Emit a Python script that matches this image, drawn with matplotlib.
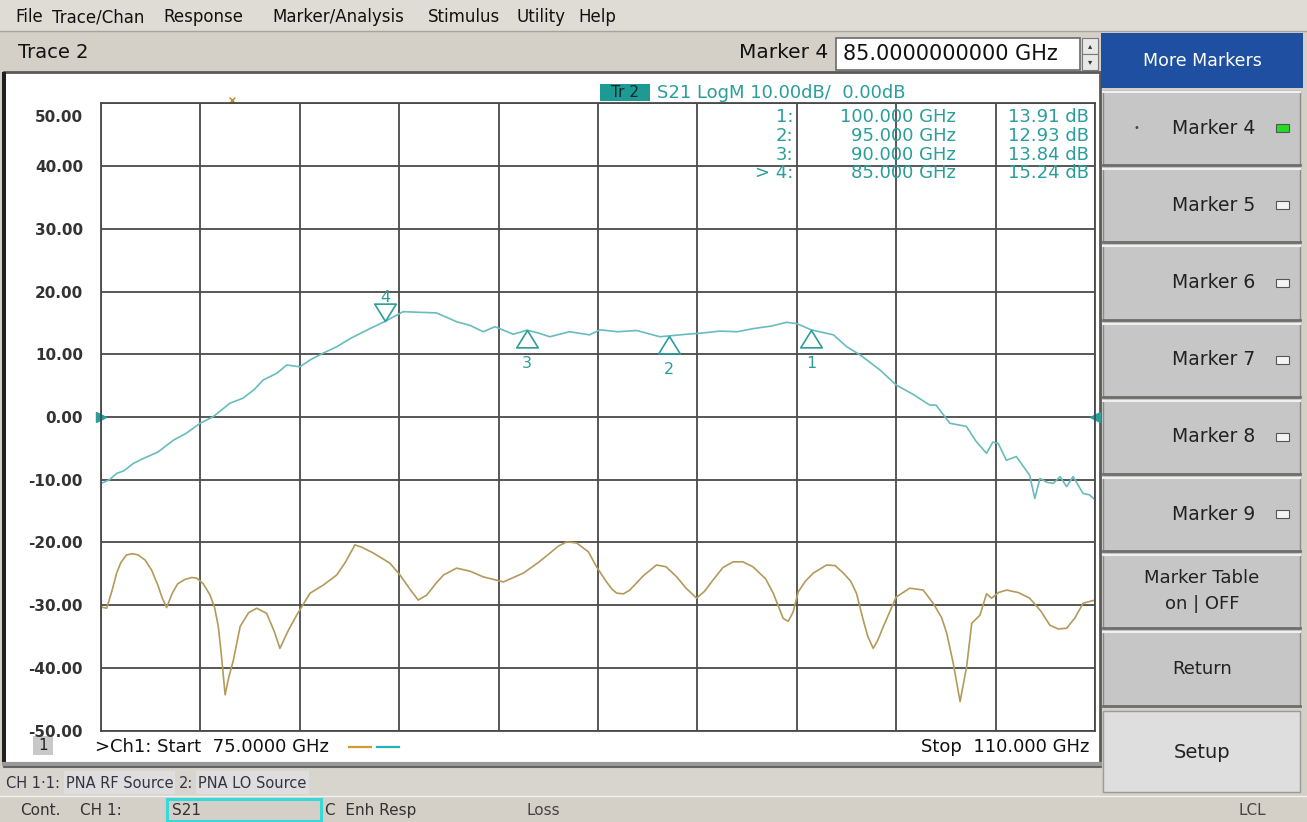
import numpy as np
import matplotlib
matplotlib.use('Agg')
import matplotlib.pyplot as plt
from matplotlib.patches import Rectangle
from matplotlib.path import Path
from matplotlib.transforms import ScaledTranslation

plt.rcParams['font.family'] = ['DejaVu Sans']

# S21 trace (GHz, dB)
s21_freq = [75.0, 75.3, 75.55, 75.8, 76.14, 76.5, 77.0, 77.55, 78.0, 78.49, 78.95, 79.54,
            80.0, 80.4, 80.71, 81.2, 81.54, 82.0, 82.4, 82.83, 83.3, 83.77, 84.47, 85.0,
            85.64, 86.2, 86.81, 87.52, 88.0, 88.46, 88.87, 89.52, 90.0, 90.4, 90.8, 91.5,
            92.2, 92.57, 93.2, 93.86, 94.68, 95.0, 95.62, 96.2, 96.8, 97.4, 97.97, 98.6,
            99.14, 99.5, 100.0, 100.79, 101.26, 101.73, 102.43, 103.0, 103.6, 104.18, 104.4,
            104.89, 105.47, 105.8, 106.18, 106.4, 106.59, 106.88, 107.23, 107.7, 107.88,
            108.06, 108.3, 108.53, 108.77, 109.0, 109.23, 109.4, 109.58, 109.8, 110.0]
s21_db = [-10.6, -10.0, -9.0, -8.6, -7.4, -6.6, -5.6, -3.7, -2.6, -1.0, 0.05, 2.2,
          3.0, 4.4, 5.9, 7.0, 8.3, 8.0, 9.2, 10.2, 11.2, 12.5, 14.1, 15.24,
          16.8, 16.7, 16.6, 15.2, 14.6, 13.6, 14.4, 13.2, 13.84, 13.4, 12.8, 13.6,
          13.1, 13.9, 13.6, 13.8, 12.8, 12.93, 13.2, 13.4, 13.7, 13.6, 14.1, 14.5,
          15.1, 14.9, 13.91, 13.1, 11.2, 9.9, 7.5, 5.1, 3.6, 1.9, 1.9,
          -1.0, -1.5, -3.8, -5.8, -4.0, -4.2, -6.9, -6.3, -9.3, -13.0,
          -9.8, -10.4, -10.6, -9.5, -11.1, -9.5, -10.8, -12.2, -12.4, -13.2]

# LO leakage trace (GHz, dB)
lo_freq = [75.0, 75.2, 75.4, 75.55, 75.7, 75.9, 76.1, 76.31, 76.55, 76.78, 77.0, 77.15, 77.31,
           77.5, 77.7, 77.96, 78.2, 78.37, 78.6, 78.84, 79.0, 79.13, 79.25, 79.37, 79.5,
           79.66, 79.9, 80.2, 80.48, 80.83, 81.1, 81.3, 81.6, 81.89, 82.36, 82.83, 83.3,
           83.6, 83.94, 84.2, 84.59, 85.17, 85.53, 85.9, 86.17, 86.47, 86.8, 87.06, 87.52,
           88.0, 88.46, 89.17, 89.87, 90.4, 90.81, 91.1, 91.4, 91.75, 92.16, 92.45, 92.8,
           93.0, 93.16, 93.4, 93.62, 94.1, 94.56, 94.9, 95.27, 95.6, 95.97, 96.25, 96.55,
           96.9, 97.26, 97.6, 97.96, 98.4, 98.67, 99.02, 99.2, 99.37, 99.55, 99.8, 100.08,
           100.55, 100.85, 101.14, 101.4, 101.6, 101.84, 102.0, 102.19, 102.35, 102.55,
           103.0, 103.48, 103.95, 104.3, 104.6, 104.78, 105.01, 105.25, 105.48, 105.66,
           105.95, 106.18, 106.36, 106.6, 106.89, 107.3, 107.7, 108.1, 108.41, 108.7,
           109.0, 109.3, 109.58, 110.0]
lo_db = [-30.3, -30.5, -27.5, -24.9, -23.2, -22.0, -21.8, -22.0, -22.8, -24.4, -26.8, -28.8,
         -30.4, -28.2, -26.6, -25.9, -25.6, -25.7, -26.6, -28.4, -30.4, -33.4, -38.5, -44.3,
         -41.5, -38.8, -33.4, -31.2, -30.5, -31.3, -34.2, -36.9, -34.0, -31.6, -28.1, -26.8,
         -25.2, -23.2, -20.4, -20.8, -21.7, -23.3, -25.2, -27.6, -29.2, -28.4, -26.5, -25.2,
         -24.1, -24.6, -25.5, -26.3, -24.9, -23.2, -21.7, -20.6, -19.9, -20.1, -21.5, -23.9,
         -26.3, -27.5, -28.1, -28.2, -27.6, -25.3, -23.6, -23.9, -25.5, -27.3, -28.9, -27.8,
         -26.0, -24.0, -23.1, -23.1, -23.9, -25.8, -28.1, -32.1, -32.6, -31.1, -27.9,
         -26.2, -24.9, -23.6, -23.7, -24.9, -26.2, -28.1, -32.4, -35.0, -36.9, -35.6,
         -33.4, -28.7, -27.3, -27.6, -29.7, -32.0, -34.5, -39.3, -45.4, -39.8, -32.9,
         -31.6, -28.2, -28.9, -28.0, -27.6, -28.0, -28.9, -31.0, -33.2, -33.8, -33.7,
         -32.0, -29.7, -29.2]

marker_ids = ['1', '2', '3', '4']
marker_freq = [100.0, 95.0, 90.0, 85.0]
marker_db = [13.91, 12.93, 13.84, 15.24]

menu_items = ['File', 'Trace/Chan', 'Response', 'Marker/Analysis', 'Stimulus', 'Utility', 'Help']
menu_x = [15, 52, 163, 272, 428, 516, 578]
side_buttons = ['Marker 4', 'Marker 5', 'Marker 6', 'Marker 7', 'Marker 8', 'Marker 9',
                'Marker Table\non | OFF', 'Return']

teal = '#2a9e9a'
trace_cyan = '#68bcbd'
trace_orange = '#b49a5a'
ui_grey = '#d4d0c8'
btn_grey = '#c6c6c6'

fig = plt.figure(figsize=(13.07, 8.22), dpi=100)
fig.patch.set_facecolor(ui_grey)

# window chrome drawn in pixel coordinates
bg = fig.add_axes([0, 0, 1, 1])
bg.set_xlim(0, 1307)
bg.set_ylim(822, 0)
bg.axis('off')

def rect(x0, y0, x1, y1, fc, ec='none', lw=1.0, z=1, a=bg):
    a.add_patch(Rectangle((x0, y0), x1 - x0, y1 - y0, facecolor=fc, edgecolor=ec, lw=lw, zorder=z))

# menu bar
rect(0, 0, 1307, 31, '#dfdcd5')
bg.plot([0, 1307], [31, 31], color='#a8a49c', lw=1)
for name, x in zip(menu_items, menu_x):
    bg.text(x, 17, name, fontsize=12, va='center', ha='left', color='#111111')

# toolbar row
bg.text(18, 53, 'Trace 2', fontsize=14, va='center', color='#111111')
bg.text(828, 53, 'Marker 4', fontsize=14.5, va='center', ha='right', color='#111111')
rect(836, 38, 1080, 70, 'white', ec='#6a6a6a', lw=1.2)
bg.text(843, 54, '85.0000000000 GHz', fontsize=15, va='center', color='#111111')
rect(1082, 38, 1098, 54, '#e8e8e8', ec='#7a7a7a', lw=0.8)
rect(1082, 54, 1098, 70, '#e8e8e8', ec='#7a7a7a', lw=0.8)
bg.text(1090, 46, '\u25b4', fontsize=6, ha='center', va='center', color='#333333')
bg.text(1090, 62, '\u25be', fontsize=6, ha='center', va='center', color='#333333')

# plot panel
rect(4, 72, 1100, 766, '#ffffff', ec='#5a5a5a', lw=2.0)
rect(2, 72, 6, 766, '#202020')
bg.plot([4, 1100], [764, 764], color='#9a9a9a', lw=3)

# right hand buttons
rect(1101, 33, 1303, 88, '#1e4fa0')
bg.text(1202, 61, 'More Markers', fontsize=12.5, ha='center', va='center', color='white')
btn_top = 91
btn_h = 77.2
for i, label in enumerate(side_buttons):
    y0 = btn_top + i * btn_h
    y1 = y0 + btn_h - 3
    rect(1103, y0, 1300, y1, btn_grey, ec='#8a8a8a', lw=1.0)
    bg.plot([1103, 1300], [y1, y1], color='#6e6e6e', lw=2)
    bg.plot([1103, 1300], [y0 + 1, y0 + 1], color='#f0f0f0', lw=1.5)
    ym = (y0 + y1) / 2
    if label.startswith('Marker') and '\n' not in label:
        bg.text(1255, ym, label, fontsize=13.5, ha='right', va='center', color='#222222')
        sq_fc = '#22dd22' if label == 'Marker 4' else '#f4f4f4'
        rect(1276, ym - 4, 1289, ym + 4, sq_fc, ec='#555555', lw=0.8, z=3)
    else:
        bg.text(1202, ym, label, fontsize=13, ha='center', va='center', color='#222222',
                linespacing=1.55)
bg.text(1136, btn_top + btn_h / 2 - 1.5, '\u2022', fontsize=7, ha='center', va='center', color='#444444')
rect(1103, 711, 1300, 792, '#dedede', ec='#9a9a9a', lw=1.0)
bg.text(1202, 752, 'Setup', fontsize=14, ha='center', va='center', color='#222222')

# status rows
rect(0, 769, 1101, 796, '#d8d5ce')
rect(64, 771, 175, 794, '#dedede')
rect(196, 771, 309, 794, '#dedede')
bg.text(6, 783, 'CH 1\u00b71:', fontsize=10.5, va='center', color='#333344')
bg.text(66, 783, 'PNA RF Source', fontsize=10.5, va='center', color='#333344')
bg.text(179, 783, '2:', fontsize=10.5, va='center', color='#333344')
bg.text(198, 783, 'PNA LO Source', fontsize=10.5, va='center', color='#333344')
bg.plot([0, 1307], [796, 796], color='#f2f2f2', lw=1)
bg.text(20, 810, 'Cont.', fontsize=11, va='center', color='#333333')
bg.text(80, 810, 'CH 1:', fontsize=11, va='center', color='#333333')
rect(167, 799, 321, 821, '#d4d0c8', ec='#38d8d8', lw=2.2)
bg.text(172, 810, 'S21', fontsize=11, va='center', color='#333333')
bg.text(325, 810, 'C  Enh Resp', fontsize=11, va='center', color='#333333')
bg.text(527, 810, 'Loss', fontsize=11, va='center', color='#444444')
bg.text(1238, 810, 'LCL', fontsize=11, va='center', color='#444444')

# channel footer inside panel
rect(33, 736, 53, 755, '#c8c8c8')
bg.text(43, 745, '1', fontsize=11, ha='center', va='center', color='#222222')
bg.text(95, 747, '>Ch1: Start  75.0000 GHz', fontsize=13, va='center', color='#111111')
bg.plot([349, 371], [747, 747], color='#d19a2e', lw=1.6)
bg.plot([377, 399], [747, 747], color='#22b5b5', lw=1.6)
bg.text(1089, 747, 'Stop  110.000 GHz', fontsize=13, va='center', ha='right', color='#111111')

# measurement grid
ax = fig.add_axes([101 / 1307, (822 - 730.5) / 822, 994 / 1307, 627 / 822], zorder=2)
ax.set_facecolor('white')
ax.set_xlim(75, 110)
ax.set_ylim(-50, 50)
ax.set_xticks(np.linspace(75, 110, 11))
ax.set_yticks(np.arange(-50, 51, 10))
ax.grid(True, color='#4a4a4a', lw=1.3)
ax.tick_params(axis='x', length=0, labelbottom=False)
ax.tick_params(axis='y', length=0, pad=13, labelsize=11, labelcolor='#333333')
ax.set_yticklabels(['%.2f' % v for v in np.arange(-50, 51, 10)], fontweight='bold')
top_lab = ax.get_yticklabels()[-1]
top_lab.set_verticalalignment('top')
top_lab.set_transform(top_lab.get_transform() + ScaledTranslation(0, -5 / 72, fig.dpi_scale_trans))
for s in ax.spines.values():
    s.set_color('#4a4a4a')
    s.set_linewidth(1.3)

ax.plot(lo_freq, lo_db, color=trace_orange, lw=1.2)
ax.plot(s21_freq, s21_db, color=trace_cyan, lw=1.2)

# reference position arrows and trace 1 ref mark
ax.plot([75], [0], marker='>', color=teal, ms=7, clip_on=False)
ax.plot([110], [0], marker='<', color=teal, ms=7, clip_on=False)
ax.plot([79.6], [50.6], marker='x', color='#c8842a', ms=4, mew=1, clip_on=False)

# markers
up_tri = Path([(0, 0), (-0.62, -1), (0.62, -1), (0, 0)], closed=True)
down_tri = Path([(0, 0), (-0.62, 1), (0.62, 1), (0, 0)], closed=True)
for mid, f, v in zip(marker_ids, marker_freq, marker_db):
    if mid == '4':
        ax.plot([f], [v], marker=down_tri, ms=25, mfc='none', mec=teal, mew=1.2)
        ax.annotate(mid, (f, v), xytext=(0, 17), textcoords='offset points', ha='center',
                    va='center', fontsize=11.5, color=teal)
    else:
        ax.plot([f], [v], marker=up_tri, ms=25, mfc='none', mec=teal, mew=1.2)
        ax.annotate(mid, (f, v), xytext=(0, -24), textcoords='offset points', ha='center',
                    va='center', fontsize=11.5, color=teal)

# header and marker readout, on top of the grid
top = fig.add_axes([0, 0, 1, 1], zorder=3)
top.set_xlim(0, 1307)
top.set_ylim(822, 0)
top.axis('off')
top.patch.set_alpha(0)
rect(600, 84, 650, 101, '#1e9a94', z=5, a=top)
top.text(625, 92.5, 'Tr 2', fontsize=11, ha='center', va='center', color='#0b2b2a', zorder=6)
top.text(657, 92.5, 'S21 LogM 10.00dB/  0.00dB', fontsize=13, va='center', color=teal, zorder=6)
readout_y = [117, 136, 155, 173]
readout_tag = ['1:', '2:', '3:', '> 4:']
for tag, f, v, y in zip(readout_tag, marker_freq, marker_db, readout_y):
    top.text(793, y, tag, fontsize=13, ha='right', va='center', color=teal, zorder=6)
    top.text(956, y, '%.3f GHz' % f, fontsize=13, ha='right', va='center', color=teal, zorder=6)
    top.text(1089, y, '%.2f dB' % v, fontsize=13, ha='right', va='center', color=teal, zorder=6)

fig.savefig('out.png', dpi=100, facecolor=fig.get_facecolor())
